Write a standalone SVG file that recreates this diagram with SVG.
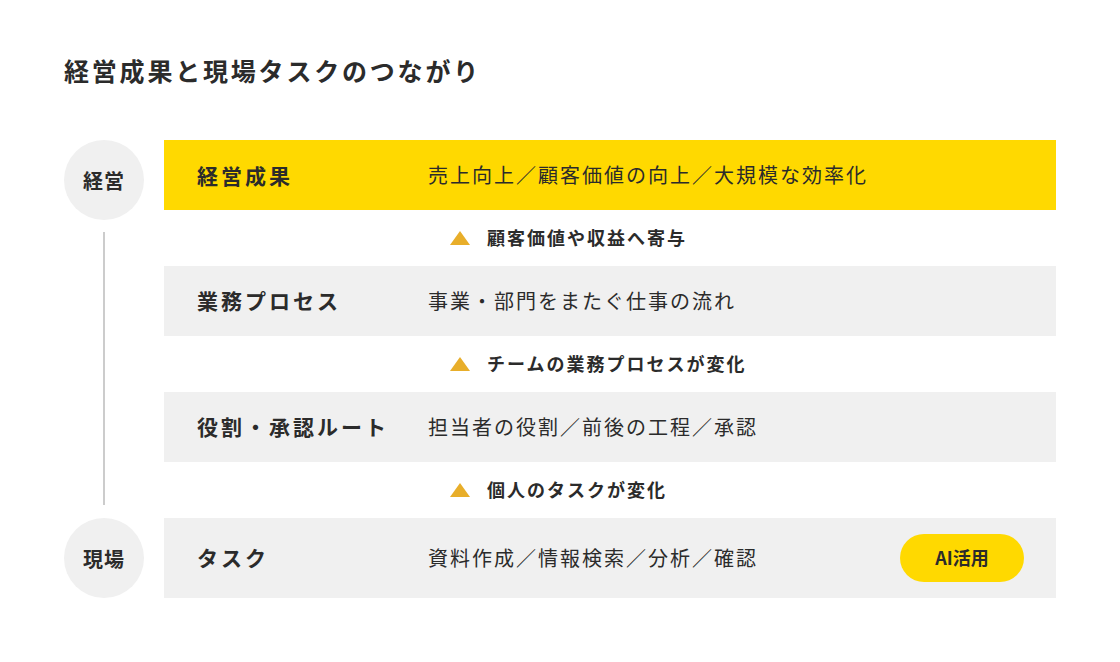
<svg xmlns="http://www.w3.org/2000/svg" width="1120" height="662" viewBox="0 0 1120 662">
<style>
text{font-family:"Noto Sans CJK JP","Noto Sans",sans-serif;fill:#2b2b2b;dominant-baseline:central}
.title{font-size:25px;font-weight:700;letter-spacing:2.8px}
.lbl{font-size:21px;font-weight:700;letter-spacing:3px}
.desc{font-size:20px;font-weight:400;letter-spacing:2px}
.arr{font-size:18px;font-weight:700;letter-spacing:2px}
.circ{font-size:20px;font-weight:700;letter-spacing:1px;text-anchor:middle}
.band{fill:#F0F0F0}
.tri{fill:#E8AE2A}
</style>
<rect width="1120" height="662" fill="#FFFFFF"/>
<text class="title" x="64" y="70">経営成果と現場タスクのつながり</text>
<g id="connectors">
<line x1="104" y1="232" x2="104" y2="505" stroke="#CCCCCC" stroke-width="2"/>
<g id="arrow1"><polygon class="tri" points="460,231 470,245 450,245"/><text class="arr" x="487" y="236.5">顧客価値や収益へ寄与</text></g>
<g id="arrow2"><polygon class="tri" points="460,357 470,371 450,371"/><text class="arr" x="487" y="362.5">チームの業務プロセスが変化</text></g>
<g id="arrow3"><polygon class="tri" points="460,483 470,497 450,497"/><text class="arr" x="487" y="488.5">個人のタスクが変化</text></g>
</g>
<g id="circle-keiei"><circle cx="104" cy="180" r="40" fill="#F0F0F0"/><text class="circ" x="104" y="180">経営</text></g>
<g id="circle-genba"><circle cx="104" cy="558" r="40" fill="#F0F0F0"/><text class="circ" x="104" y="558">現場</text></g>
<g id="row-results"><rect x="164" y="140" width="892" height="70" fill="#FFD900"/><text class="lbl" x="197" y="174.5">経営成果</text><text class="desc" x="428" y="174.5">売上向上／顧客価値の向上／大規模な効率化</text></g>
<g id="row-process"><rect class="band" x="164" y="266" width="892" height="70"/><text class="lbl" x="197" y="300">業務プロセス</text><text class="desc" x="428" y="300">事業・部門をまたぐ仕事の流れ</text></g>
<g id="row-roles"><rect class="band" x="164" y="392" width="892" height="70"/><text class="lbl" x="197" y="426">役割・承認ルート</text><text class="desc" x="428" y="426">担当者の役割／前後の工程／承認</text></g>
<g id="row-tasks"><rect class="band" x="164" y="518" width="892" height="80"/><text class="lbl" x="197" y="557">タスク</text><text class="desc" x="428" y="557">資料作成／情報検索／分析／確認</text>
<g id="ai-pill"><rect x="900" y="534" width="124" height="48" rx="24" fill="#FFD900"/><text x="962" y="556.5" style="font-size:18px;font-weight:700;text-anchor:middle">AI活用</text></g></g>
</svg>
